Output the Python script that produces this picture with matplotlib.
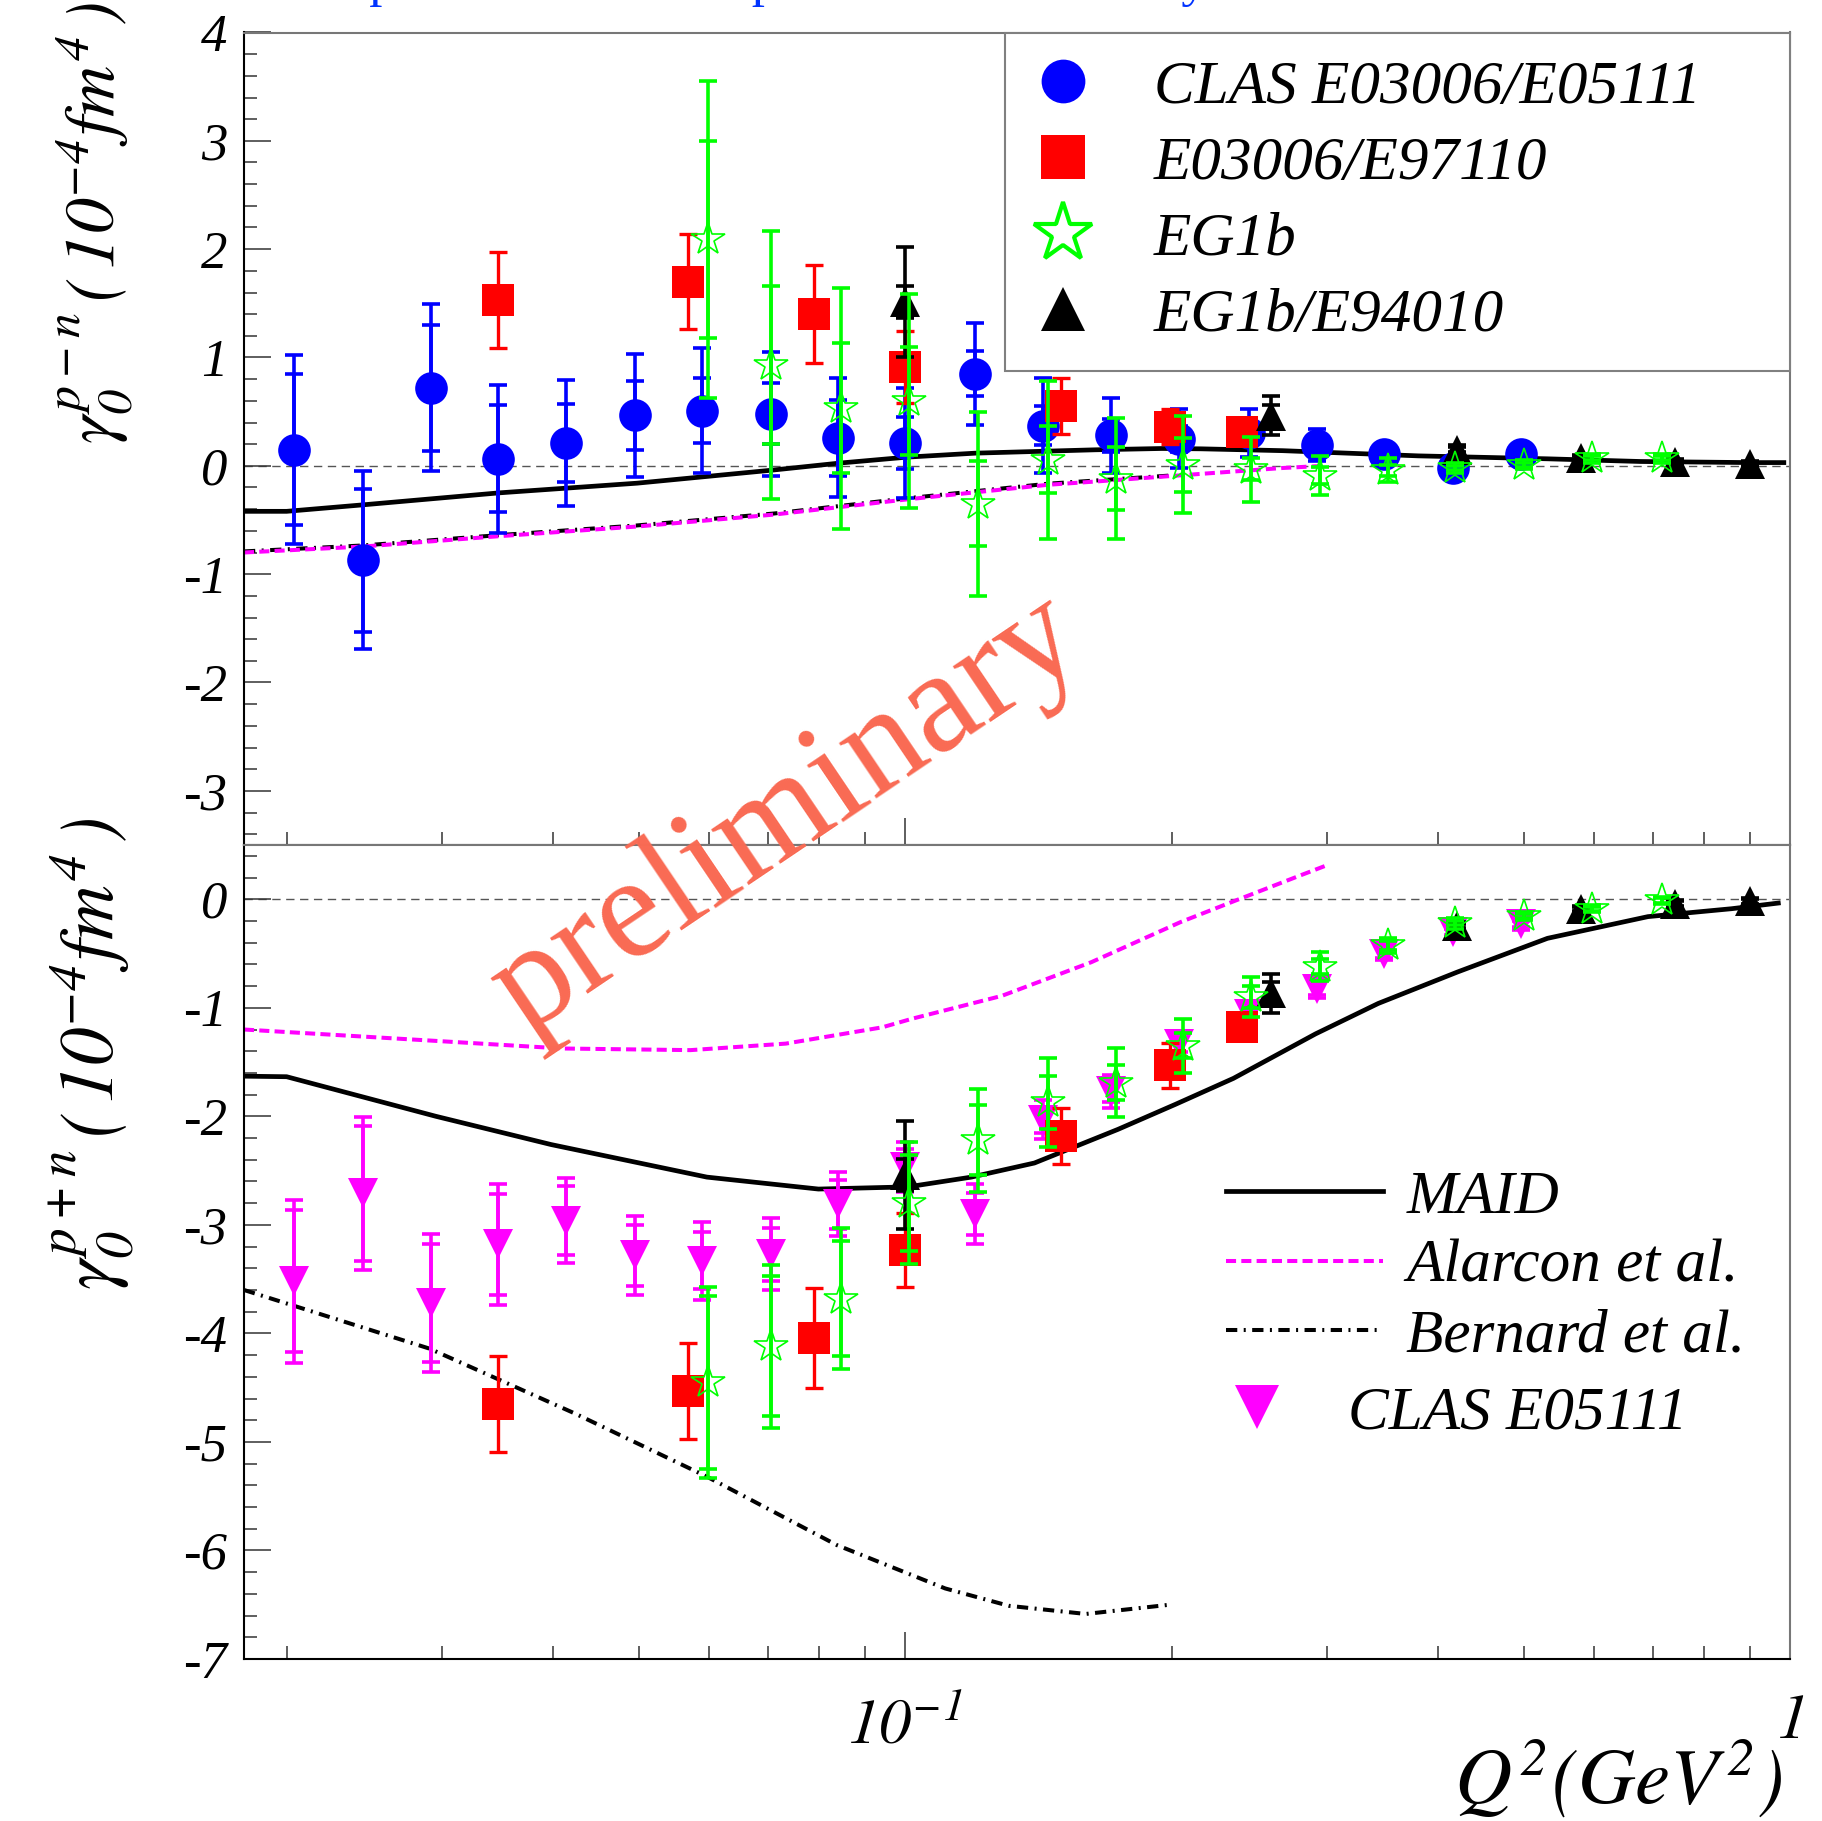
import matplotlib
matplotlib.use('Agg')
import matplotlib.pyplot as plt
from matplotlib.lines import Line2D
from matplotlib.ticker import FixedLocator, NullFormatter, MultipleLocator, FixedFormatter, FuncFormatter

plt.rcParams['font.family'] = ['Liberation Serif', 'DejaVu Serif']
plt.rcParams['font.style'] = 'italic'
plt.rcParams['mathtext.fontset'] = 'stix'
plt.rcParams['axes.unicode_minus'] = False

# ---------------- data ----------------
# CLAS E03006/E05111 (blue circles, p-n) and CLAS E05111 (magenta, p+n)
q2_clas = [0.0204, 0.0244, 0.0291, 0.0347, 0.0414, 0.0495, 0.0590, 0.0705, 0.0840, 0.100,
           0.120, 0.143, 0.171, 0.204, 0.245, 0.292, 0.348, 0.416, 0.497]
gpn_clas = [0.15, -0.87, 0.72, 0.065, 0.21, 0.465, 0.51, 0.48, 0.26, 0.21,
            0.85, 0.37, 0.28, 0.25, 0.30, 0.19, 0.11, -0.02, 0.11]
gpn_clas_stat = [0.70, 0.66, 0.58, 0.495, 0.36, 0.32, 0.30, 0.28, 0.35, 0.24,
                 0.21, 0.18, 0.15, 0.12, 0.10, 0.07, 0.04, 0.03, 0.03]
gpn_clas_tot = [0.875, 0.825, 0.77, 0.685, 0.585, 0.57, 0.58, 0.57, 0.55, 0.51,
                0.47, 0.44, 0.35, 0.27, 0.22, 0.15, 0.08, 0.05, 0.05]
gpp_clas = [-3.52, -2.71, -3.72, -3.18, -2.96, -3.28, -3.33, -3.27, -2.81, -2.47,
            -2.90, -2.03, -1.77, -1.33, -1.06, -0.83, -0.50, -0.30, -0.23]
gpp_clas_stat = [0.655, 0.62, 0.54, 0.465, 0.315, 0.28, 0.26, 0.245, 0.225, 0.17,
                 0.19, 0.12, 0.10, 0.08, 0.07, 0.05, 0.04, 0.03, 0.03]
gpp_clas_tot = [0.75, 0.705, 0.635, 0.555, 0.395, 0.365, 0.36, 0.33, 0.295, 0.23,
                0.28, 0.18, 0.15, 0.12, 0.10, 0.08, 0.06, 0.05, 0.05]

# E03006/E97110 (red squares)
q2_e97 = [0.0347, 0.0569, 0.0788, 0.0999, 0.150, 0.199, 0.240]
gpn_e97 = [1.53, 1.70, 1.40, 0.91, 0.55, 0.36, 0.31]
gpn_e97_err = [0.44, 0.44, 0.455, 0.33, 0.26, 0.16, 0.08]
gpp_e97 = [-4.65, -4.53, -4.04, -3.23, -2.18, -1.53, -1.18]
gpp_e97_err = [0.44, 0.44, 0.46, 0.34, 0.26, 0.21, 0.08]

# EG1b (green open stars)
q2_eg1b = [0.0598, 0.0705, 0.0847, 0.101, 0.121, 0.145, 0.173, 0.206, 0.246, 0.294,
           0.351, 0.418, 0.500, 0.597, 0.716]
gpn_eg1b = [2.09, 0.93, 0.53, 0.60, -0.35, 0.055, -0.12, 0.01, -0.03, -0.09,
            -0.04, -0.02, 0.01, 0.07, 0.07]
gpn_eg1b_stat = [0.91, 0.73, 0.60, 0.50, 0.39, 0.31, 0.29, 0.25, 0.105, 0.08,
                 0.05, 0.02, 0.02, 0.02, 0.02]
gpn_eg1b_tot = [1.46, 1.24, 1.11, 0.985, 0.85, 0.73, 0.56, 0.45, 0.30, 0.18,
                0.11, 0.05, 0.04, 0.04, 0.04]
gpp_eg1b = [-4.45, -4.12, -3.68, -2.80, -2.22, -1.87, -1.69, -1.35, -0.90, -0.62,
            -0.425, -0.22, -0.155, -0.087, -0.01]
gpp_eg1b_stat = [0.795, 0.645, 0.53, 0.445, 0.325, 0.245, 0.16, 0.115, 0.10, 0.07,
                 0.04, 0.02, 0.02, 0.02, 0.02]
gpp_eg1b_tot = [0.88, 0.75, 0.65, 0.56, 0.475, 0.41, 0.32, 0.25, 0.185, 0.13,
                0.07, 0.05, 0.04, 0.03, 0.03]

# EG1b/E94010 (black triangles)
q2_e94 = [0.100, 0.259, 0.420, 0.581, 0.741, 0.901]
gpn_e94 = [1.51, 0.46, 0.15, 0.074, 0.037, 0.015]
gpn_e94_stat = [0.15, 0.10, 0.02, 0.02, 0.02, 0.02]
gpn_e94_tot = [0.51, 0.18, 0.04, 0.03, 0.03, 0.03]
gpp_e94 = [-2.54, -0.865, -0.245, -0.09, -0.04, -0.02]
gpp_e94_stat = [0.15, 0.10, 0.02, 0.02, 0.02, 0.02]
gpp_e94_tot = [0.50, 0.18, 0.04, 0.03, 0.03, 0.03]

# Theory curves
maid_q2_pn = [0.0179, 0.0200, 0.0244, 0.0347, 0.0498, 0.0707, 0.0842, 0.1004, 0.120,
              0.164, 0.195, 0.216, 0.267, 0.380, 0.531, 0.678, 0.899, 0.984]
maid_pn = [-0.42, -0.42, -0.36, -0.25, -0.16, -0.04, 0.025, 0.08, 0.117,
           0.148, 0.16, 0.157, 0.14, 0.092, 0.065, 0.04, 0.03, 0.03]
maid_q2_pp = [0.0179, 0.0200, 0.0295, 0.0398, 0.0597, 0.0798, 0.1007, 0.1188, 0.140,
              0.174, 0.202, 0.235, 0.291, 0.3425, 0.421, 0.532, 0.691, 0.859, 0.970]
maid_pp = [-1.63, -1.635, -2.00, -2.26, -2.56, -2.67, -2.65, -2.56, -2.43,
           -2.12, -1.89, -1.65, -1.24, -0.96, -0.67, -0.36, -0.16, -0.087, -0.035]
alarcon_q2_pn = [0.0179, 0.0244, 0.0347, 0.0498, 0.0711, 0.1004, 0.145, 0.164, 0.216, 0.267, 0.297]
alarcon_pn = [-0.80, -0.745, -0.65, -0.56, -0.45, -0.31, -0.175, -0.145, -0.074, -0.02, 0.0]
alarcon_q2_pp = [0.0179, 0.0295, 0.0410, 0.0572, 0.0733, 0.0942, 0.1019, 0.1286, 0.1623,
                 0.2048, 0.2383, 0.2797, 0.2989]
alarcon_pp = [-1.20, -1.305, -1.375, -1.39, -1.33, -1.18, -1.10, -0.89, -0.58,
              -0.21, 0.0, 0.22, 0.31]
bernard_q2_pn = [0.0179, 0.0244, 0.0347, 0.0498, 0.0711, 0.1004, 0.145, 0.199]
bernard_pn = [-0.79, -0.735, -0.64, -0.55, -0.44, -0.30, -0.165, -0.09]
bernard_q2_pp = [0.0179, 0.0290, 0.0424, 0.0597, 0.0837, 0.111, 0.131, 0.160, 0.199]
bernard_pp = [-3.60, -4.14, -4.74, -5.32, -5.95, -6.35, -6.51, -6.585, -6.50]

xminor = [0.02, 0.03, 0.04, 0.05, 0.06, 0.07, 0.08, 0.09, 0.2, 0.3, 0.4, 0.5, 0.6, 0.7, 0.8, 0.9]
xlabels = [r'$\mathit{10}^{\mathit{-1}}$', r'$\mathit{1}$']

legend_top = ['CLAS E03006/E05111', 'E03006/E97110', 'EG1b', 'EG1b/E94010']
legend_bot = ['MAID', 'Alarcon et al.', 'Bernard et al.']
legend_bot2 = ['CLAS E05111']

# ---------------- figure ----------------
W, H = 1822, 1821
fig = plt.figure(figsize=(W / 100, H / 100), dpi=100)


def fx(p):
    return p / W


def fy(p):
    return 1 - p / H


L, R = fx(244), fx(1790)
ax1 = fig.add_axes([L, fy(845), R - L, fy(32.5) - fy(845)])
ax2 = fig.add_axes([L, fy(1659), R - L, fy(845) - fy(1659)])

BLUE, RED, GREEN, MAG = '#0000ff', '#ff0000', '#00ff00', '#ff00ff'
CAP = 6.5

for ax, ylim in ((ax1, (-3.5, 4)), (ax2, (-7, 0.5))):
    ax.set_xscale('log')
    ax.set_xlim(0.0179, 1.0)
    ax.set_ylim(*ylim)
    ax.xaxis.set_major_locator(FixedLocator([0.1, 1.0]))
    ax.xaxis.set_minor_locator(FixedLocator(xminor))
    ax.xaxis.set_minor_formatter(NullFormatter())
    ax.yaxis.set_major_locator(MultipleLocator(1))
    ax.yaxis.set_minor_locator(MultipleLocator(0.2))
    ax.yaxis.set_major_formatter(FuncFormatter(lambda v, p: '%d' % round(v)))
    ax.tick_params(which='both', direction='in', top=False, right=False,
                   color='#333333', width=1.1)
    ax.tick_params(axis='y', labelsize=38, pad=12)
    ax.tick_params(axis='x', labelsize=46, pad=29)
    ax.tick_params(which='major', length=19.5)
    ax.tick_params(which='minor', length=9.5)
    for s in ('left', 'bottom'):
        ax.spines[s].set_color('black')
        ax.spines[s].set_linewidth(1.5)
    for s in ('top', 'right'):
        ax.spines[s].set_color('#777777')
        ax.spines[s].set_linewidth(1.5)
    ax.axhline(0, color='#555555', lw=1.0, dashes=(6, 4), zorder=1)

ax1.xaxis.set_major_formatter(NullFormatter())
ax2.xaxis.set_major_formatter(FixedFormatter(xlabels))
ticks = ax2.xaxis.get_major_ticks()
ticks[1].set_pad(25)


def series(ax, x, y, stat, tot, color, marker, ms, lw, z, hollow=False):
    ax.errorbar(x, y, yerr=tot, fmt='none', ecolor=color, elinewidth=lw,
                capsize=CAP, capthick=lw, zorder=z)
    if stat is not None:
        ax.errorbar(x, y, yerr=stat, fmt='none', ecolor=color, elinewidth=lw,
                    capsize=CAP, capthick=lw, zorder=z)
    if hollow:
        ax.plot(x, y, ls='none', marker=marker, ms=ms, mfc='none', mec=color,
                mew=1.2, zorder=z + 0.1)
    else:
        ax.plot(x, y, ls='none', marker=marker, ms=ms, color=color, mew=0,
                zorder=z + 0.1)


# curves
for ax, mq, mv, aq, av, bq, bv in ((ax1, maid_q2_pn, maid_pn, alarcon_q2_pn, alarcon_pn, bernard_q2_pn, bernard_pn),
                                   (ax2, maid_q2_pp, maid_pp, alarcon_q2_pp, alarcon_pp, bernard_q2_pp, bernard_pp)):
    ax.plot(bq, bv, color='black', lw=2.9, dashes=(2.8, 1.6, 0.5, 1.6), zorder=2)
    ax.plot(aq, av, color=MAG, lw=2.9, dashes=(2.5, 1.3), zorder=2.1)
    ax.plot(mq, mv, color='black', lw=3.4, zorder=2.2)

# upper panel data
series(ax1, q2_clas, gpn_clas, gpn_clas_stat, gpn_clas_tot, BLUE, 'o', 23.5, 2.6, 3)
series(ax1, q2_e97, gpn_e97, None, gpn_e97_err, RED, 's', 23.5, 2.4, 4)
series(ax1, q2_e94, gpn_e94, gpn_e94_stat, gpn_e94_tot, 'black', '^', 22, 2.6, 5)
series(ax1, q2_eg1b, gpn_eg1b, gpn_eg1b_stat, gpn_eg1b_tot, GREEN, '*', 25, 2.6, 6, hollow=True)

# lower panel data
series(ax2, q2_clas, gpp_clas, gpp_clas_stat, gpp_clas_tot, MAG, 'v', 22, 2.6, 3)
series(ax2, q2_e97, gpp_e97, None, gpp_e97_err, RED, 's', 23.5, 2.4, 4)
series(ax2, q2_e94, gpp_e94, gpp_e94_stat, gpp_e94_tot, 'black', '^', 22, 2.6, 5)
series(ax2, q2_eg1b, gpp_eg1b, gpp_eg1b_stat, gpp_eg1b_tot, GREEN, '*', 25, 2.6, 6, hollow=True)

# legends
h_top = [Line2D([], [], ls='none', marker='o', ms=31.5, color=BLUE, mew=0),
         Line2D([], [], ls='none', marker='s', ms=31.5, color=RED, mew=0),
         Line2D([], [], ls='none', marker='*', ms=44, mfc='white', mec=GREEN, mew=3.0),
         Line2D([], [], ls='none', marker='^', ms=31, color='black', mew=0)]
leg1 = ax1.legend(h_top, legend_top, loc='upper left',
                  bbox_to_anchor=(fx(1005), fy(362.5), fx(1790) - fx(1005), fy(32.5) - fy(362.5)),
                  bbox_transform=fig.transFigure, mode='expand', borderaxespad=0,
                  borderpad=0.45, handlelength=1.0, handletextpad=0.98, labelspacing=0.33,
                  fontsize=44, frameon=True, fancybox=False, edgecolor='#808080',
                  framealpha=1, numpoints=1)
leg1.get_frame().set_linewidth(1.5)
leg1.set_zorder(10)

h_bot = [Line2D([], [], color='black', lw=3.4),
         Line2D([], [], color=MAG, lw=2.9, dashes=(2.5, 1.3)),
         Line2D([], [], color='black', lw=2.9, dashes=(2.8, 1.6, 0.5, 1.6))]
leg2 = ax2.legend(h_bot, legend_bot, loc='upper left', bbox_to_anchor=(fx(1226), fy(1170)),
                  bbox_transform=fig.transFigure, borderaxespad=0, borderpad=0,
                  handlelength=2.57, handletextpad=0.38, labelspacing=0.22, fontsize=44,
                  frameon=False)
ax2.add_artist(leg2)
h_bot2 = [Line2D([], [], ls='none', marker='v', ms=31, color=MAG, mew=0)]
leg3 = ax2.legend(h_bot2, legend_bot2, loc='upper left', bbox_to_anchor=(fx(1226.5), fy(1386)),
                  bbox_transform=fig.transFigure, borderaxespad=0, borderpad=0,
                  handlelength=1.0, handletextpad=0.99, fontsize=44, frameon=False, numpoints=1)

# axis labels
fig.text(fx(136), fy(444), r'$\gamma_{0}^{p-n}\,(\,\mathit{10}^{\mathit{-4}}\mathit{fm}^{\mathit{4}}\,)$',
         rotation=90, ha='right', va='bottom', fontsize=51)
fig.text(fx(136), fy(1290), r'$\gamma_{0}^{p+n}\,(\,\mathit{10}^{\mathit{-4}}\mathit{fm}^{\mathit{4}}\,)$',
         rotation=90, ha='right', va='bottom', fontsize=54.5)
ax2.set_xlabel(r'$Q^{2}(GeV^{2})$', fontsize=57, loc='right')
ax2.xaxis.set_label_coords(0.995, -(1737 - 1659) / (1659 - 845))

# watermark and clipped title
fig.text(fx(788), fy(815), 'preliminary', rotation=34, ha='center', va='center',
         fontsize=105, color='#f96a53', fontstyle='normal', zorder=20)
fig.text(fx(160), fy(-4), 'Isovector p\u2212n and isoscalar p+n as determined by JLab',
         color='#0033ff', fontsize=38, va='baseline', ha='left', fontstyle='normal')

fig.savefig('out.png', dpi=100)
